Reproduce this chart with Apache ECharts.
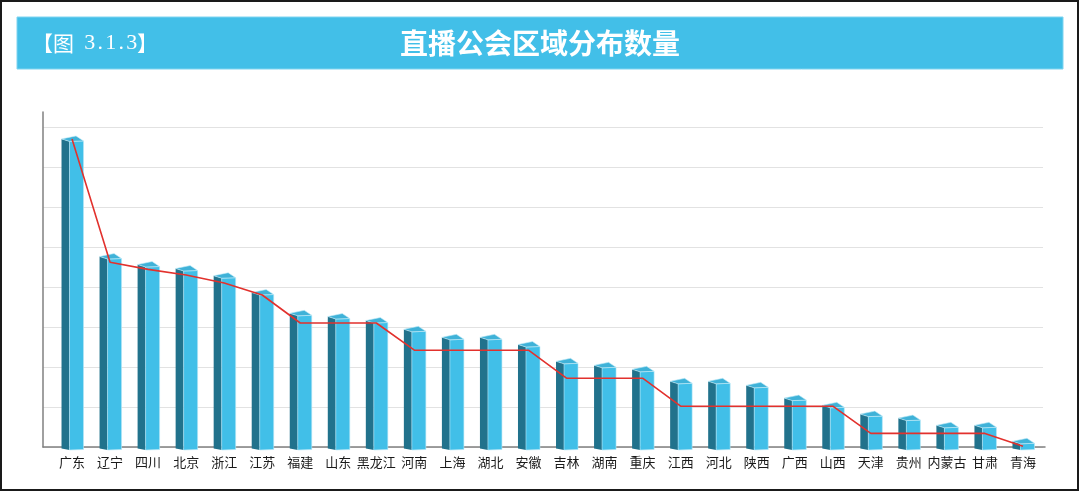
<!DOCTYPE html>
<html>
<head>
<meta charset="utf-8">
<style>
  html, body { margin: 0; padding: 0; background: #fff; }
  #chart { width: 1080px; height: 492px; }
</style>
<script src="https://cdn.jsdelivr.net/npm/echarts@6/dist/echarts.min.js"></script>
</head>
<body>
<div id="chart"></div>
<script>
// 省份（按数量排序）
var provinces = ['广东', '辽宁', '四川', '北京', '浙江', '江苏', '福建', '山东', '黑龙江', '河南',
  '上海', '湖北', '安徽', '吉林', '湖南', '重庆', '江西', '河北', '陕西', '广西',
  '山西', '天津', '贵州', '内蒙古', '甘肃', '青海'];
// 柱子数值（从图上估读，没有刻度标签）
var guildCounts = [382, 235, 225, 220, 211, 190, 164, 160, 155, 144,
  134, 134, 125, 104, 99, 94, 79, 79, 74, 58,
  49, 38, 33, 24, 24, 4];
// 红色折线（分档）
var trendVals = [385, 231, 222, 215, 205, 190, 155, 155, 155, 121,
  121, 121, 121, 86, 86, 86, 51, 51, 51, 51,
  51, 17, 17, 17, 17, 1];

var yMax = 400;
var yStep = 50;

var chart = echarts.init(document.getElementById('chart'));

// 伪3D柱子：左侧暗面 + 正面 + 顶面
function renderBar(params, api) {
  var top = api.coord([api.value(0), api.value(1)]);
  var base = api.coord([api.value(0), 0]);
  var cx = top[0], ty = top[1], by = base[1];
  var dl = cx - 10.5, fl = cx - 2.5, fr = cx + 11.5;
  return {
    type: 'group',
    children: [
      {
        type: 'polygon',
        shape: { points: [[dl, ty - 2.5], [fl, ty], [fl, by + 3], [dl, by + 1.5]] },
        style: { fill: '#21728c' }
      },
      {
        type: 'polygon',
        shape: { points: [[fl, ty], [fr, ty - 0.5], [fr, by + 2.5], [fl, by + 3]] },
        style: { fill: '#41bfe8', stroke: '#b9e8f7', lineWidth: 0.6 }
      },
      {
        type: 'polygon',
        shape: { points: [[dl, ty - 2.5], [cx + 4, ty - 5.5], [fr, ty - 0.5], [fl, ty]] },
        style: { fill: '#3fb2d8', stroke: '#c6ecf8', lineWidth: 0.6 }
      }
    ]
  };
}

var serifDigit = { color: '#fff', fontSize: 22, fontWeight: 'normal', width: 10.5, align: 'center',
  fontFamily: "'Liberation Serif', 'DejaVu Serif', serif" };

var option = {
  animation: false,
  backgroundColor: '#fff',
  textStyle: { fontFamily: "'Noto Sans CJK SC', 'Noto Sans', sans-serif" },
  graphic: [
    {
      type: 'rect',
      z: -10,
      shape: { x: 17, y: 17, width: 1046, height: 52 },
      style: { fill: '#42bfe8', stroke: '#7fd4f0', lineWidth: 1 }
    },
    {
      type: 'rect',
      z: 100,
      shape: { x: 1, y: 1, width: 1077, height: 489 },
      style: { fill: null, stroke: '#1a1a1a', lineWidth: 2 }
    }
  ],
  title: [
    {
      text: '直播公会区域分布数量',
      left: 'center',
      top: 29,
      padding: 0,
      textStyle: {
        color: '#fff',
        fontSize: 28,
        fontWeight: 'bold',
        fontFamily: "'Noto Sans CJK SC', sans-serif"
      }
    },
    {
      text: '{b|【图}{d| }{d|3}{d|.}{d|1}{d|.}{d|3}{b|】}',
      left: 32,
      top: 32,
      padding: 0,
      textStyle: {
        color: '#fff',
        fontSize: 20,
        fontWeight: 'normal',
        rich: {
          b: { color: '#fff', fontSize: 21, fontWeight: 'normal', fontFamily: "'Noto Sans CJK SC', sans-serif" },
          d: serifDigit
        }
      }
    }
  ],
  grid: [
    // 坐标轴线
    { left: 43, right: 35, top: 112, bottom: 45 },
    // 网格线
    { left: 43, right: 37, top: 127, bottom: 45 },
    // 柱子和折线
    { left: 53, right: 38, top: 127, bottom: 45 }
  ],
  xAxis: [
    {
      gridIndex: 0,
      type: 'value',
      min: 0,
      max: 1,
      axisLine: { show: true, onZero: false, lineStyle: { color: '#808080', width: 1.5 } },
      axisTick: { show: false },
      axisLabel: { show: false },
      splitLine: { show: false }
    },
    {
      gridIndex: 1,
      type: 'value',
      min: 0,
      max: 1,
      show: false
    },
    {
      gridIndex: 2,
      type: 'category',
      data: provinces,
      axisLine: { show: false },
      axisTick: { show: false },
      axisLabel: {
        color: '#1a1a1a',
        fontSize: 13,
        margin: 9,
        interval: 0
      }
    }
  ],
  yAxis: [
    {
      gridIndex: 0,
      type: 'value',
      min: 0,
      max: 1,
      axisLine: { show: true, lineStyle: { color: '#808080', width: 1.5 } },
      axisTick: { show: false },
      axisLabel: { show: false },
      splitLine: { show: false }
    },
    {
      gridIndex: 1,
      type: 'value',
      min: 0,
      max: yMax,
      interval: yStep,
      axisLine: { show: false },
      axisTick: { show: false },
      axisLabel: { show: false },
      splitLine: { show: true, lineStyle: { color: '#e2e2e2', width: 1 } }
    },
    {
      gridIndex: 2,
      type: 'value',
      min: 0,
      max: yMax,
      interval: yStep,
      show: false
    }
  ],
  series: [
    {
      name: '数量',
      type: 'custom',
      xAxisIndex: 2,
      yAxisIndex: 2,
      z: 3,
      renderItem: renderBar,
      data: guildCounts.map(function (v, i) { return [i, v]; })
    },
    {
      name: '趋势',
      type: 'line',
      xAxisIndex: 2,
      yAxisIndex: 2,
      z: 5,
      symbol: 'none',
      lineStyle: { color: '#e2312d', width: 1.6 },
      data: trendVals
    }
  ]
};

chart.setOption(option);
</script>
</body>
</html>
